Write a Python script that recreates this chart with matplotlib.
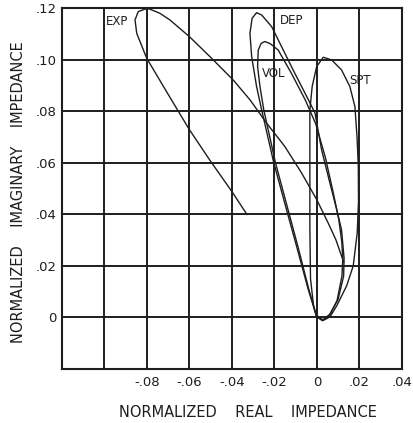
import matplotlib
matplotlib.use("Agg")
import matplotlib.pyplot as plt

# Curves (normalized real, normalized imaginary)
exp_x = [-0.0329, -0.040, -0.050, -0.060, -0.070, -0.0801, -0.0848, -0.0856,
         -0.0841, -0.0809, -0.0790, -0.0740, -0.0692, -0.060, -0.0504,
         -0.0394, -0.0315, -0.0237, -0.0151, -0.0072, -0.0001, 0.0052,
         0.0090, 0.0116, 0.0126]
exp_y = [0.0399, 0.0488, 0.0605, 0.0728, 0.0865, 0.1005, 0.1102, 0.1154,
         0.1186, 0.1196, 0.1197, 0.1180, 0.1154, 0.1089, 0.1012,
         0.0921, 0.0844, 0.0754, 0.0663, 0.0560, 0.0457, 0.0368,
         0.0300, 0.0238, 0.0215]

dep_x = [0.0, -0.0041, -0.0096, -0.0137, -0.0203, -0.0260, -0.0284, -0.0307,
         -0.0315, -0.0305, -0.0284, -0.0260, -0.0213, -0.0166, -0.0112,
         -0.0056, -0.0009, 0.0022, 0.0061, 0.0093, 0.0116, 0.0128, 0.0126,
         0.0100, 0.0061, 0.0028, 0.0005]
dep_y = [0.0, 0.0109, 0.0277, 0.0400, 0.0600, 0.0805, 0.0896, 0.1012,
         0.1102, 0.1160, 0.1182, 0.1173, 0.1128, 0.1050, 0.0960,
         0.0870, 0.0793, 0.0651, 0.0522, 0.0419, 0.0340, 0.0230, 0.0160,
         0.0070, 0.0012, -0.0010, 0.0004]

vol_x = [0.0, -0.0038, -0.0090, -0.0130, -0.0195, -0.0250, -0.0268, -0.0279,
         -0.0276, -0.0262, -0.0245, -0.0220, -0.0182, -0.0120, -0.0055,
         -0.0005, 0.0040, 0.0078, 0.0103, 0.0117, 0.0122, 0.0118, 0.0095,
         0.0058, 0.0025, 0.0003]
vol_y = [0.0, 0.0109, 0.0277, 0.0400, 0.0600, 0.0805, 0.0896, 0.0973,
         0.1037, 0.1063, 0.1070, 0.1062, 0.1037, 0.0947, 0.0844,
         0.0750, 0.0620, 0.0480, 0.0380, 0.0295, 0.0225, 0.0160, 0.0065,
         0.0005, -0.0013, 0.0002]

spt_x = [0.0, -0.0015, -0.0030, -0.0033, -0.0033, -0.0033, -0.0022, -0.0001,
         0.0030, 0.0069, 0.0116, 0.0155, 0.0179, 0.0189, 0.0195, 0.0196,
         0.0190, 0.0171, 0.0140, 0.0093, 0.0061, 0.0030, 0.0005]
spt_y = [0.0, 0.0040, 0.0150, 0.0350, 0.0600, 0.0805, 0.0896, 0.0973,
         0.1009, 0.0999, 0.0960, 0.0896, 0.0818, 0.0700, 0.0587, 0.0450,
         0.0328, 0.0199, 0.0122, 0.0044, 0.0001, -0.0012, -0.0002]

x_ticks = [-0.12, -0.10, -0.08, -0.06, -0.04, -0.02, 0.0, 0.02, 0.04]
x_labels = ["", "", "-.08", "-.06", "-.04", "-.02", "0", ".02", ".04"]
y_ticks = [-0.02, 0.0, 0.02, 0.04, 0.06, 0.08, 0.10, 0.12]
y_labels = ["", "0", ".02", ".04", ".06", ".08", ".10", ".12"]

ink = "#1e1e1e"

fig = plt.figure(figsize=(4.13, 4.23), dpi=100)
ax = fig.add_axes([0.150, 0.128, 0.823, 0.853])

for xs, ys in [(exp_x, exp_y), (dep_x, dep_y), (vol_x, vol_y), (spt_x, spt_y)]:
    ax.plot(xs, ys, color=ink, linewidth=1.0, solid_joinstyle="round")

ax.set_xlim(-0.12, 0.04)
ax.set_ylim(-0.02, 0.12)
ax.set_xticks(x_ticks)
ax.set_xticklabels(x_labels)
ax.set_yticks(y_ticks)
ax.set_yticklabels(y_labels)
ax.tick_params(length=0, labelsize=9.5, colors=ink)
ax.tick_params(axis="x", pad=5)
ax.tick_params(axis="y", pad=4)
ax.grid(True, color=ink, linewidth=1.4)
for sp in ax.spines.values():
    sp.set_color(ink)
    sp.set_linewidth(1.5)

# curve names written on the chart
ax.text(-0.0941, 0.1146, "EXP", fontsize=8.5, color=ink, ha="center", va="center")
ax.text(-0.0118, 0.1150, "DEP", fontsize=8.5, color=ink, ha="center", va="center")
ax.text(-0.0202, 0.0945, "VOL", fontsize=8.5, color=ink, ha="center", va="center")
ax.text(0.0202, 0.0918, "SPT", fontsize=8.5, color=ink, ha="center", va="center")

fig.text(0.600, 0.026, "NORMALIZED    REAL    IMPEDANCE", fontsize=10.5,
         color=ink, ha="center", va="center")
fig.text(0.044, 0.546, "NORMALIZED    IMAGINARY    IMPEDANCE", fontsize=10.5,
         color=ink, ha="center", va="center", rotation=90)

fig.savefig("out.png", dpi=100, facecolor="white")
